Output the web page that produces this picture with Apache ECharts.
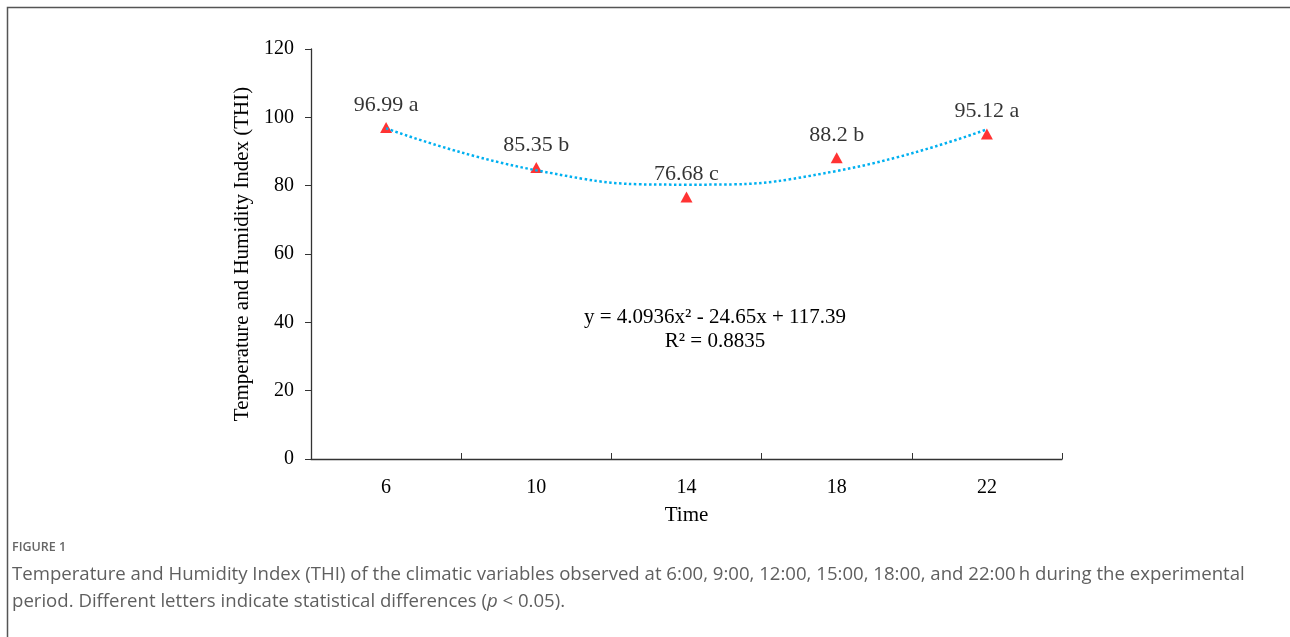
<!DOCTYPE html>
<html>
<head>
<meta charset="utf-8">
<script src="https://cdn.jsdelivr.net/npm/echarts@6/dist/echarts.min.js"></script>
<style>
html,body{margin:0;padding:0;background:#fff;}
#c{width:1290px;height:637px;}
</style>
</head>
<body>
<div id="c"></div>
<script>
var categories = ['6', '10', '14', '18', '22'];
var thiValues = [96.99, 85.35, 76.68, 88.2, 95.12];
var letters = ['a', 'b', 'c', 'b', 'a'];
var trendValues = [96.8, 84.5, 80.3, 84.3, 96.5];
var yTicks = [0, 20, 40, 60, 80, 100, 120];

var serif = '"Liberation Serif", "Times New Roman", serif';
var sans = '"Open Sans", Lato, sans-serif';
var chart = echarts.init(document.getElementById('c'));
chart.setOption({
  animation: false,
  backgroundColor: '#fff',
  grid: {left: 311, top: 49, right: 228, bottom: 178, containLabel: false},
  xAxis: {
    type: 'category',
    data: categories,
    boundaryGap: true,
    name: 'Time',
    nameLocation: 'middle',
    nameGap: 46,
    nameTextStyle: {fontFamily: serif, fontSize: 21, color: '#000'},
    axisLine: {lineStyle: {color: '#333', width: 1.3}},
    axisTick: {show: true, inside: true, length: 6, interval: 0, lineStyle: {color: '#333'}},
    axisLabel: {fontFamily: serif, fontSize: 20, color: '#000', margin: 19}
  },
  yAxis: {
    type: 'value',
    min: 0, max: 120, interval: 20,
    name: 'Temperature and Humidity Index (THI)',
    nameLocation: 'middle',
    nameGap: 56,
    nameTextStyle: {fontFamily: serif, fontSize: 21, color: '#000'},
    splitLine: {show: false},
    axisLine: {show: true, lineStyle: {color: '#333', width: 1.3}},
    axisTick: {show: true, inside: false, length: 6, lineStyle: {color: '#333'}},
    axisLabel: {fontFamily: serif, fontSize: 20, color: '#000', margin: 17,
      formatter: function (v) { return yTicks.indexOf(v) >= 0 ? String(v) : ''; }}
  },
  series: [
    {
      type: 'line',
      data: trendValues,
      smooth: 0.5,
      symbol: 'none',
      lineStyle: {color: '#00B0F0', width: 2.5, type: [2.5, 2.5]},
      z: 3
    },
    {
      type: 'scatter',
      data: thiValues,
      symbol: 'triangle',
      symbolSize: [12, 11],
      itemStyle: {color: '#FF0000'},
      z: 2,
      label: {
        show: true,
        position: 'top',
        distance: 6,
        fontFamily: serif,
        fontSize: 22,
        color: '#000',
        formatter: function (p) { return thiValues[p.dataIndex] + ' ' + letters[p.dataIndex]; }
      }
    }
  ],
  graphic: [
    {type: 'rect', shape: {x: 7.5, y: 7.5, width: 1300, height: 700}, style: {fill: 'none', stroke: '#555', lineWidth: 1.5}, silent: true},
    {type: 'text', x: 715, y: 317, style: {text: 'y = 4.0936x² - 24.65x + 117.39', font: '21px ' + serif, fill: '#000', align: 'center', verticalAlign: 'middle'}},
    {type: 'text', x: 715, y: 341, style: {text: 'R² = 0.8835', font: '21px ' + serif, fill: '#000', align: 'center', verticalAlign: 'middle'}},
    {type: 'text', left: 12, top: 541, style: {text: 'FIGURE 1', font: '600 12.5px ' + sans, fill: '#666'}},
    {type: 'text', left: 12, top: 565, style: {
      rich: {n: {fontFamily: sans, fontSize: 18.6, fill: '#5f5f5f'}},
      text: '{n|Temperature and Humidity Index (THI) of the climatic variables observed at 6:00, 9:00, 12:00, 15:00, 18:00, and 22:00\u2009h during the experimental}'
    }},
    {type: 'text', left: 12, top: 592, style: {
      rich: {n: {fontFamily: sans, fontSize: 18.6, fill: '#5f5f5f'}, i: {fontFamily: sans, fontSize: 18.6, fontStyle: 'italic', fill: '#5f5f5f'}},
      text: '{n|period. Different letters indicate statistical differences (}{i|p}{n| < 0.05).}'
    }}
  ]
});
</script>
</body>
</html>
